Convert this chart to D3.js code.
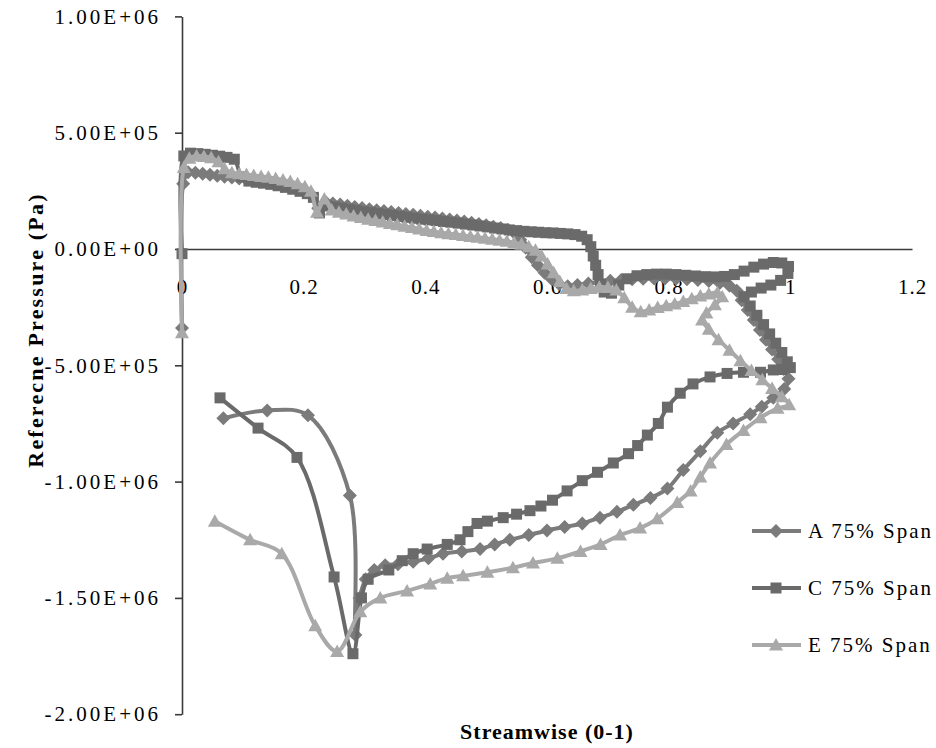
<!DOCTYPE html>
<html>
<head>
<meta charset="utf-8">
<script src="https://cdn.jsdelivr.net/npm/d3@7"></script>
<style>
  html, body { margin: 0; padding: 0; background: #fff; }
  svg { display: block; }
  .axis path, .axis line { stroke: #3a3a3a; stroke-width: 1.6; }
  .axis text { font-family: 'Liberation Serif', 'Times New Roman', serif; font-size: 21px; fill: #000; }
  .y-axis text { letter-spacing: 3px; }
  .x-axis text { letter-spacing: 1px; }
  .axis-title { font-family: 'Liberation Serif', 'Times New Roman', serif; font-size: 22px; font-weight: bold; fill: #000; letter-spacing: 1px; }
  .y-title { letter-spacing: 2.2px; }
  .legend-text { font-family: 'Liberation Serif', 'Times New Roman', serif; font-size: 21px; fill: #000; letter-spacing: 2px; }
  .series-line { fill: none; stroke-width: 4; stroke-linejoin: round; stroke-linecap: round; }
</style>
</head>
<body>
<svg id="chart" width="936" height="748"></svg>
<script>
// tick values and labels
const xTicks = [0, 0.2, 0.4, 0.6, 0.8, 1, 1.2];
const xTickLabels = ['0', '0.2', '0.4', '0.6', '0.8', '1', '1.2'];
const yTicks = [1e6, 5e5, 0, -5e5, -1e6, -1.5e6, -2e6];
const yTickLabels = ['1.00E+06', '5.00E+05', '0.00E+00', '-5.00E+05', '-1.00E+06', '-1.50E+06', '-2.00E+06'];
const seriesNames = ['A 75% Span', 'C 75% Span', 'E 75% Span'];

// [streamwise, pressure Pa], in drawing order (leading edge, pressure side, trailing edge, suction side)
const spanA = [
  [0.000,-3.40e5],[0.002,2.80e5],[0.010,3.30e5],
  [0.022,3.28e5],[0.034,3.24e5],[0.046,3.19e5],[0.058,3.15e5],[0.070,3.11e5],[0.082,3.07e5],[0.094,3.03e5],
  [0.106,2.99e5],[0.118,2.95e5],[0.130,2.90e5],[0.142,2.85e5],[0.154,2.79e5],[0.166,2.72e5],[0.178,2.64e5],
  [0.190,2.56e5],[0.202,2.46e5],[0.214,2.30e5],[0.224,1.75e5],[0.236,2.02e5],[0.248,1.96e5],
  [0.260,1.91e5],[0.272,1.86e5],[0.284,1.81e5],[0.296,1.76e5],[0.308,1.71e5],[0.320,1.67e5],[0.332,1.63e5],
  [0.344,1.59e5],[0.356,1.55e5],[0.368,1.51e5],[0.380,1.47e5],[0.392,1.43e5],[0.404,1.39e5],[0.416,1.35e5],
  [0.428,1.31e5],[0.440,1.27e5],[0.452,1.23e5],[0.464,1.18e5],[0.476,1.13e5],[0.488,1.08e5],[0.500,1.02e5],
  [0.512,9.6e4],[0.524,9.0e4],[0.536,8.3e4],[0.547,6.8e4],[0.556,4.0e4],[0.565,5e3],[0.575,-3.5e4],
  [0.585,-7.0e4],[0.596,-1.02e5],[0.608,-1.30e5],[0.620,-1.50e5],[0.634,-1.60e5],
  [0.650,-1.55e5],[0.668,-1.48e5],[0.686,-1.42e5],[0.704,-1.37e5],[0.722,-1.33e5],[0.740,-1.30e5],
  [0.758,-1.28e5],[0.776,-1.27e5],[0.794,-1.27e5],[0.812,-1.28e5],[0.830,-1.30e5],[0.848,-1.33e5],
  [0.866,-1.38e5],[0.884,-1.46e5],[0.900,-1.58e5],[0.912,-1.80e5],
  [0.920,-2.20e5],[0.930,-2.62e5],[0.940,-3.05e5],[0.950,-3.48e5],[0.960,-3.90e5],[0.970,-4.32e5],
  [0.980,-4.74e5],[0.989,-5.16e5],[0.997,-5.58e5],
  [0.990,-6.02e5],[0.972,-6.40e5],[0.953,-6.78e5],[0.934,-7.10e5],[0.906,-7.50e5],[0.880,-7.90e5],
  [0.852,-8.70e5],[0.824,-9.50e5],[0.798,-1.03e6],[0.770,-1.07e6],[0.742,-1.10e6],[0.715,-1.13e6],
  [0.687,-1.155e6],[0.658,-1.18e6],[0.629,-1.195e6],[0.600,-1.21e6],[0.570,-1.23e6],[0.539,-1.25e6],
  [0.514,-1.27e6],[0.490,-1.29e6],[0.460,-1.30e6],[0.429,-1.31e6],[0.405,-1.33e6],[0.380,-1.345e6],
  [0.355,-1.355e6],[0.334,-1.36e6],[0.316,-1.38e6],[0.302,-1.42e6],[0.292,-1.50e6],[0.285,-1.66e6],
  [0.276,-1.06e6],[0.207,-7.15e5],[0.140,-6.94e5],[0.068,-7.28e5]
];

const spanC = [
  [0.000,-2.0e4],[0.003,4.00e5],[0.014,4.12e5],[0.026,4.10e5],[0.038,4.07e5],[0.050,4.03e5],[0.062,3.99e5],
  [0.074,3.94e5],[0.086,3.86e5],[0.098,3.10e5],[0.110,2.92e5],[0.122,2.87e5],[0.134,2.83e5],[0.146,2.78e5],
  [0.158,2.72e5],[0.170,2.65e5],[0.182,2.57e5],[0.194,2.48e5],[0.206,2.38e5],[0.216,2.22e5],[0.226,1.55e5],
  [0.238,1.85e5],[0.250,1.80e5],
  [0.262,1.75e5],[0.274,1.70e5],[0.286,1.65e5],[0.298,1.60e5],[0.310,1.56e5],[0.322,1.52e5],[0.334,1.48e5],
  [0.346,1.44e5],[0.358,1.40e5],[0.370,1.36e5],[0.382,1.32e5],[0.394,1.28e5],[0.406,1.25e5],[0.418,1.22e5],
  [0.430,1.18e5],[0.442,1.15e5],[0.454,1.11e5],[0.466,1.07e5],[0.478,1.03e5],[0.490,9.9e4],[0.502,9.5e4],
  [0.514,9.0e4],[0.526,8.6e4],[0.538,8.2e4],[0.550,7.9e4],[0.562,7.6e4],[0.574,7.4e4],[0.586,7.2e4],
  [0.598,7.0e4],[0.610,6.9e4],[0.622,6.7e4],[0.634,6.5e4],[0.646,6.2e4],[0.657,5.5e4],[0.666,4.0e4],
  [0.672,1.0e4],[0.676,-3.0e4],[0.680,-7.0e4],[0.684,-1.10e5],[0.688,-1.50e5],[0.694,-1.85e5],[0.706,-1.90e5],
  [0.718,-1.55e5],[0.732,-1.28e5],[0.748,-1.15e5],[0.764,-1.10e5],[0.780,-1.08e5],[0.796,-1.08e5],
  [0.812,-1.10e5],[0.828,-1.13e5],[0.844,-1.16e5],[0.860,-1.19e5],[0.876,-1.20e5],[0.892,-1.18e5],
  [0.908,-1.10e5],[0.924,-9.5e4],[0.940,-7.8e4],[0.956,-6.5e4],[0.972,-5.8e4],[0.986,-6.0e4],[0.997,-7.5e4],
  [0.996,-1.05e5],[0.984,-1.35e5],[0.968,-1.55e5],[0.952,-1.68e5],[0.936,-1.85e5],[0.924,-2.05e5],
  [0.934,-2.45e5],[0.945,-2.85e5],[0.956,-3.25e5],[0.966,-3.65e5],[0.976,-4.05e5],[0.986,-4.45e5],
  [0.995,-4.85e5],[1.000,-5.10e5],
  [0.986,-5.18e5],[0.972,-5.20e5],[0.951,-5.30e5],[0.923,-5.30e5],[0.896,-5.35e5],[0.868,-5.50e5],
  [0.840,-5.80e5],[0.819,-6.20e5],[0.798,-6.80e5],[0.783,-7.50e5],[0.765,-8.00e5],[0.749,-8.45e5],
  [0.734,-8.80e5],[0.709,-9.20e5],[0.683,-9.60e5],[0.658,-9.96e5],[0.633,-1.04e6],[0.609,-1.08e6],
  [0.590,-1.105e6],[0.572,-1.125e6],[0.550,-1.14e6],[0.528,-1.155e6],[0.502,-1.17e6],[0.485,-1.18e6],
  [0.470,-1.215e6],[0.457,-1.25e6],[0.436,-1.27e6],[0.403,-1.29e6],[0.380,-1.31e6],[0.362,-1.34e6],
  [0.340,-1.38e6],[0.306,-1.42e6],[0.295,-1.50e6],[0.281,-1.74e6],[0.250,-1.41e6],[0.189,-8.96e5],
  [0.125,-7.70e5],[0.0625,-6.40e5]
];

const spanE = [
  [0.000,-3.60e5],[0.003,3.50e5],[0.012,3.90e5],[0.024,4.00e5],[0.036,3.98e5],[0.048,3.92e5],[0.060,3.75e5],
  [0.070,3.45e5],[0.082,3.28e5],[0.094,3.24e5],[0.106,3.20e5],[0.118,3.16e5],[0.130,3.12e5],[0.142,3.08e5],
  [0.154,3.03e5],[0.166,2.97e5],[0.178,2.90e5],[0.190,2.81e5],[0.202,2.68e5],[0.212,2.48e5],[0.222,1.58e5],
  [0.234,2.15e5],[0.246,1.68e5],
  [0.258,1.58e5],[0.270,1.50e5],[0.282,1.42e5],[0.294,1.35e5],[0.306,1.28e5],[0.318,1.22e5],[0.330,1.16e5],
  [0.342,1.10e5],[0.354,1.04e5],[0.366,9.8e4],[0.378,9.2e4],[0.390,8.6e4],[0.402,8.0e4],[0.414,7.5e4],
  [0.426,7.0e4],[0.438,6.6e4],[0.450,6.2e4],[0.462,5.8e4],[0.474,5.4e4],[0.486,5.0e4],[0.498,4.6e4],
  [0.510,4.2e4],[0.522,3.8e4],[0.534,3.3e4],[0.546,2.7e4],[0.558,2.0e4],[0.570,1.0e4],[0.581,-5e3],
  [0.591,-3.0e4],[0.601,-6.5e4],[0.611,-1.02e5],[0.621,-1.40e5],[0.632,-1.70e5],[0.644,-1.80e5],
  [0.658,-1.76e5],[0.672,-1.70e5],[0.686,-1.64e5],[0.700,-1.65e5],[0.714,-1.76e5],[0.727,-2.10e5],
  [0.740,-2.50e5],[0.754,-2.70e5],[0.768,-2.62e5],[0.782,-2.52e5],[0.796,-2.44e5],[0.810,-2.36e5],
  [0.824,-2.26e5],[0.838,-2.14e5],[0.852,-2.02e5],[0.866,-1.93e5],[0.880,-1.88e5],[0.888,-2.05e5],
  [0.876,-2.40e5],[0.862,-2.75e5],[0.855,-3.05e5],
  [0.866,-3.45e5],[0.882,-3.90e5],[0.900,-4.35e5],[0.918,-4.80e5],[0.936,-5.22e5],[0.954,-5.62e5],
  [0.970,-6.00e5],[0.986,-6.35e5],[0.998,-6.70e5],
  [0.979,-6.85e5],[0.951,-7.25e5],[0.923,-7.80e5],[0.895,-8.40e5],[0.868,-9.20e5],[0.852,-9.80e5],
  [0.836,-1.04e6],[0.814,-1.09e6],[0.781,-1.16e6],[0.753,-1.20e6],[0.720,-1.23e6],[0.688,-1.27e6],
  [0.655,-1.30e6],[0.617,-1.33e6],[0.577,-1.35e6],[0.544,-1.37e6],[0.502,-1.39e6],[0.462,-1.405e6],
  [0.436,-1.415e6],[0.408,-1.44e6],[0.370,-1.47e6],[0.326,-1.50e6],[0.293,-1.56e6],[0.255,-1.73e6],
  [0.219,-1.62e6],[0.164,-1.31e6],[0.112,-1.25e6],[0.054,-1.17e6]
];

const W = 936, H = 748;
const plot = { left: 182, right: 912, top: 16.4, bottom: 714.2 };

const x = d3.scaleLinear().domain([0, 1.2]).range([plot.left, plot.right]);
const y = d3.scaleLinear().domain([-2e6, 1e6]).range([plot.bottom, plot.top]);

const series = [
  { name: seriesNames[0], data: spanA, color: '#7b7b7b', marker: 'diamond' },
  { name: seriesNames[1], data: spanC, color: '#6a6a6a', marker: 'square' },
  { name: seriesNames[2], data: spanE, color: '#a9a9a9', marker: 'triangle' }
];

function markerPath(type) {
  if (type === 'diamond') return 'M0,-7L7,0L0,7L-7,0Z';
  if (type === 'square') return 'M-5.5,-5.5H5.5V5.5H-5.5Z';
  return 'M0,-7L7,5.5H-7Z';
}

const svg = d3.select('#chart').attr('viewBox', `0 0 ${W} ${H}`);

// Y axis (left, with outside ticks)
const yAxisG = svg.append('g')
  .attr('class', 'axis y-axis')
  .attr('transform', `translate(${x(0)},0)`)
  .call(d3.axisLeft(y)
    .tickValues(yTicks)
    .tickFormat((d, i) => yTickLabels[i])
    .tickSize(7)
    .tickSizeOuter(0)
    .tickPadding(14));
yAxisG.attr('font-family', null).attr('font-size', null);

// X axis crossing at zero pressure, labels just below it
const xAxisG = svg.append('g')
  .attr('class', 'axis x-axis')
  .attr('transform', `translate(0,${y(0)})`)
  .call(d3.axisBottom(x)
    .tickValues(xTicks)
    .tickFormat((d, i) => xTickLabels[i])
    .tickSize(0)
    .tickSizeOuter(0)
    .tickPadding(30));
xAxisG.attr('font-family', null).attr('font-size', null);

// Axis titles
svg.append('text')
  .attr('class', 'axis-title')
  .attr('x', (plot.left + plot.right) / 2)
  .attr('y', 739)
  .attr('text-anchor', 'middle')
  .text('Streamwise (0-1)');

svg.append('text')
  .attr('class', 'axis-title y-title')
  .attr('transform', 'rotate(-90)')
  .attr('x', -330)
  .attr('y', 43)
  .attr('text-anchor', 'middle')
  .text('Referecne Pressure (Pa)');

// Series: smoothed line + markers
const lineGen = d3.line()
  .x(d => x(d[0]))
  .y(d => y(d[1]))
  .curve(d3.curveCatmullRom.alpha(0.5));

series.forEach(s => {
  const g = svg.append('g').attr('class', 'series');
  g.append('path')
    .datum(s.data)
    .attr('class', 'series-line')
    .attr('stroke', s.color)
    .attr('d', lineGen);
  g.selectAll('path.marker')
    .data(s.data)
    .enter()
    .append('path')
    .attr('class', 'marker')
    .attr('d', markerPath(s.marker))
    .attr('transform', d => `translate(${x(d[0])},${y(d[1])})`)
    .attr('fill', s.color);
});

// Legend
const legend = svg.append('g').attr('class', 'legend');
series.forEach((s, i) => {
  const ly = 531 + i * 57;
  legend.append('line')
    .attr('x1', 752).attr('x2', 801)
    .attr('y1', ly).attr('y2', ly)
    .attr('stroke', s.color)
    .attr('stroke-width', 4);
  legend.append('path')
    .attr('d', markerPath(s.marker))
    .attr('transform', `translate(776,${ly})`)
    .attr('fill', s.color);
  legend.append('text')
    .attr('class', 'legend-text')
    .attr('x', 808)
    .attr('y', ly)
    .attr('dy', '0.35em')
    .text(s.name);
});
</script>
</body>
</html>
